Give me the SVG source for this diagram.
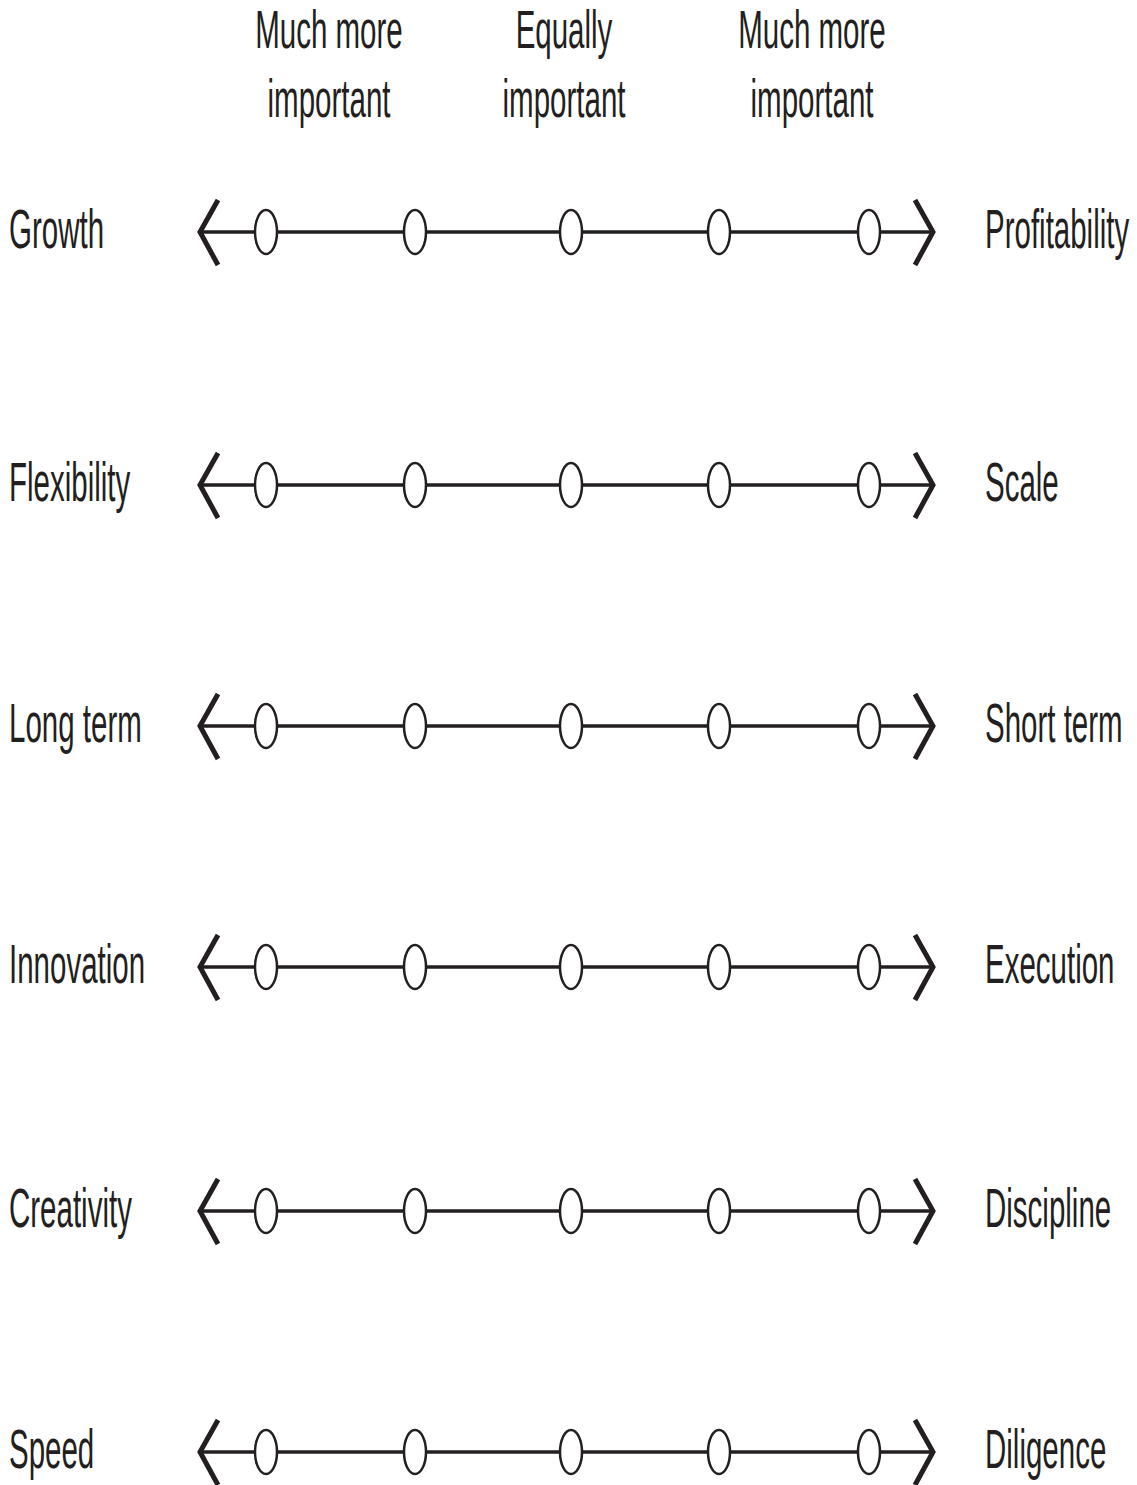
<svg xmlns="http://www.w3.org/2000/svg" xmlns:xlink="http://www.w3.org/1999/xlink" width="1137" height="1485" viewBox="0 0 1137 1485">
  <style>
    .lbl { font-family: "Liberation Sans", Arial, sans-serif; font-size: 29.5px; fill: #231f20; }
    .mid { text-anchor: middle; }
    .axis { stroke: #231f20; stroke-width: 3.5; fill: none; }
    .head { stroke: #231f20; stroke-width: 5; fill: none; stroke-linejoin: miter; stroke-linecap: butt; }
    .pt { stroke: #231f20; stroke-width: 2.5; fill: #ffffff; }
  </style>
  <defs>
    <!-- one rating scale, drawn around y = 0 -->
    <g id="scale-row">
      <line class="axis" x1="201" y1="0" x2="931" y2="0"/>
      <polyline class="head" points="218,-32 200,0 218,33"/>
      <polyline class="head" points="915,-32 933,0 915,33"/>
      <ellipse class="pt" cx="266" cy="0" rx="11" ry="22"/>
      <ellipse class="pt" cx="415" cy="0" rx="11" ry="22"/>
      <ellipse class="pt" cx="571" cy="0" rx="11" ry="22"/>
      <ellipse class="pt" cx="719" cy="0" rx="11" ry="22"/>
      <ellipse class="pt" cx="869" cy="0" rx="11" ry="22"/>
    </g>
  </defs>

  <rect width="1137" height="1485" fill="#ffffff"/>

  <!-- column headings -->
  <g id="headings">
    <text class="lbl mid" transform="translate(329,48) scale(1,1.85)">Much more</text>
    <text class="lbl mid" transform="translate(329,117) scale(1,1.85)">important</text>
    <text class="lbl mid" transform="translate(564,48) scale(1,1.85)">Equally</text>
    <text class="lbl mid" transform="translate(564,117) scale(1,1.85)">important</text>
    <text class="lbl mid" transform="translate(812,48) scale(1,1.85)">Much more</text>
    <text class="lbl mid" transform="translate(812,117) scale(1,1.85)">important</text>
  </g>

  <!-- scales -->
  <g id="connectors">
    <use xlink:href="#scale-row" transform="translate(0,232)"/>
    <use xlink:href="#scale-row" transform="translate(0,485)"/>
    <use xlink:href="#scale-row" transform="translate(0,726)"/>
    <use xlink:href="#scale-row" transform="translate(0,967)"/>
    <use xlink:href="#scale-row" transform="translate(0,1211)"/>
    <use xlink:href="#scale-row" transform="translate(0,1452)"/>
  </g>

  <!-- pair labels -->
  <g id="growth"><text class="lbl" transform="translate(9,248) scale(1,1.9)">Growth</text></g>
  <g id="profitability"><text class="lbl" transform="translate(985,248) scale(1,1.9)">Profitability</text></g>

  <g id="flexibility"><text class="lbl" transform="translate(9,501) scale(1,1.9)">Flexibility</text></g>
  <g id="scale"><text class="lbl" transform="translate(985,501) scale(1,1.9)">Scale</text></g>

  <g id="long-term"><text class="lbl" transform="translate(9,742) scale(1,1.9)">Long term</text></g>
  <g id="short-term"><text class="lbl" transform="translate(985,742) scale(1,1.9)">Short term</text></g>

  <g id="innovation"><text class="lbl" transform="translate(9,983) scale(1,1.9)">Innovation</text></g>
  <g id="execution"><text class="lbl" transform="translate(985,983) scale(1,1.9)">Execution</text></g>

  <g id="creativity"><text class="lbl" transform="translate(9,1227) scale(1,1.9)">Creativity</text></g>
  <g id="discipline"><text class="lbl" transform="translate(985,1227) scale(1,1.9)">Discipline</text></g>

  <g id="speed"><text class="lbl" transform="translate(9,1468) scale(1,1.9)">Speed</text></g>
  <g id="diligence"><text class="lbl" transform="translate(985,1468) scale(1,1.9)">Diligence</text></g>
</svg>
